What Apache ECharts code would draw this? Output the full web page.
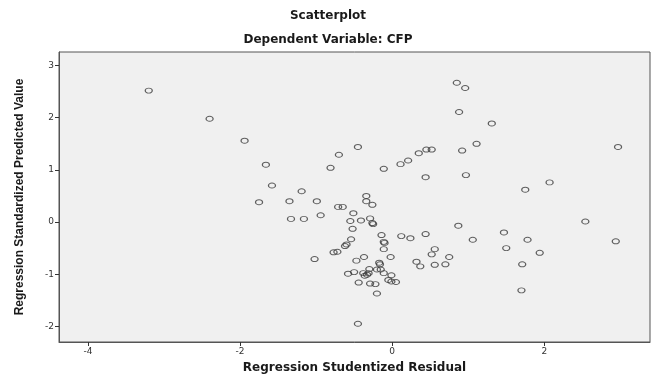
<!DOCTYPE html>
<html>
<head>
<meta charset="utf-8">
<script src="https://cdn.jsdelivr.net/npm/echarts@6/dist/echarts.min.js"></script>
<style>
  html, body { margin: 0; padding: 0; background: #ffffff; }
  #chart { width: 656px; height: 379px; }
</style>
</head>
<body>
<div id="chart"></div>
<script>
// Regression Studentized Residual (x) for each case
const residuals = [
  -3.20, -2.40, -1.94, -1.66, -1.58, -1.19, -0.81, -0.70, -0.45, -0.34,
  -0.11,  0.11,  0.21,  0.35,  0.45,  0.52,  0.44,  0.85,  0.96,  0.88,
   1.31,  1.11,  0.92,  0.97,  2.97,  2.07,  1.75, -1.75, -1.35, -0.99,
  -1.33, -1.16, -0.94, -0.71, -0.65, -0.34, -0.26, -0.51, -0.55, -0.41,
  -0.29, -0.26, -0.25, -0.52, -1.02, -0.54, -0.60, -0.62, -0.72, -0.77,
  -0.14, -0.11, -0.10, -0.11,  0.12,  0.24,  0.44,  0.56,  0.52,  0.32,
   0.37,  0.56,  0.70,  0.75, -0.02, -0.37, -0.47, -0.17, -0.16, -0.30,
  -0.20, -0.15, -0.11, -0.01, -0.50, -0.58, -0.38, -0.36, -0.33, -0.31,
  -0.05, -0.01,  0.05, -0.44, -0.29, -0.22, -0.20, -0.45,  0.87,  1.06,
   1.47,  1.50,  1.78,  1.94,  1.71,  1.70,  2.54,  2.94
];

// Regression Standardized Predicted Value (y) for each case
const predicted = [
   2.52,  1.98,  1.56,  1.10,  0.70,  0.59,  1.04,  1.29,  1.44,  0.50,
   1.02,  1.11,  1.18,  1.32,  1.39,  1.39,  0.86,  2.67,  2.57,  2.11,
   1.89,  1.50,  1.37,  0.90,  1.44,  0.76,  0.62,  0.38,  0.40,  0.40,
   0.06,  0.06,  0.13,  0.29,  0.29,  0.40,  0.33,  0.17,  0.02,  0.03,
   0.07, -0.02, -0.04, -0.13, -0.71, -0.33, -0.43, -0.46, -0.57, -0.58,
  -0.25, -0.38, -0.40, -0.52, -0.27, -0.31, -0.23, -0.52, -0.62, -0.76,
  -0.85, -0.82, -0.81, -0.67, -0.67, -0.67, -0.74, -0.78, -0.81, -0.90,
  -0.91, -0.91, -0.98, -1.02, -0.96, -0.99, -0.98, -1.03, -1.01, -0.98,
  -1.11, -1.14, -1.15, -1.16, -1.18, -1.19, -1.37, -1.95, -0.07, -0.34,
  -0.20, -0.50, -0.34, -0.59, -0.81, -1.31,  0.01, -0.37
];

// Tick values shown on each axis
const xTicks = [-4, -2, 0, 2];
const yTicks = [-2, -1, 0, 1, 2, 3];

const points = residuals.map((r, i) => [r, predicted[i]]);

const chart = echarts.init(document.getElementById('chart'), null, { renderer: 'canvas' });

const tickLabelStyle = {
  color: '#333333',
  fontFamily: 'DejaVu Sans',
  fontSize: 9
};

chart.setOption({
  animation: false,
  backgroundColor: '#ffffff',
  title: [
    {
      text: 'Scatterplot',
      left: 'center',
      top: 5,
      textStyle: { fontFamily: 'DejaVu Sans', fontWeight: 'bold', fontSize: 12, color: '#1a1a1a' }
    },
    {
      text: 'Dependent Variable: CFP',
      left: 'center',
      top: 29,
      textStyle: { fontFamily: 'DejaVu Sans', fontWeight: 'bold', fontSize: 12, color: '#1a1a1a' }
    }
  ],
  grid: {
    left: 59,
    right: 6,
    top: 52,
    bottom: 36,
    show: true,
    backgroundColor: '#f0f0f0',
    borderColor: '#555555',
    borderWidth: 1
  },
  xAxis: {
    type: 'value',
    min: -4.38,
    max: 3.39,
    name: 'Regression Studentized Residual',
    nameLocation: 'middle',
    nameGap: 20,
    nameTextStyle: { fontFamily: 'DejaVu Sans', fontWeight: 'bold', fontSize: 12, color: '#1a1a1a' },
    splitLine: { show: false },
    axisLine: { show: true, onZero: false, lineStyle: { color: '#555555' } },
    axisTick: { show: true, length: 4, customValues: xTicks, lineStyle: { color: '#333333' } },
    axisLabel: Object.assign({ customValues: xTicks, margin: 5 }, tickLabelStyle)
  },
  yAxis: {
    type: 'value',
    min: -2.30,
    max: 3.26,
    name: 'Regression Standardized Predicted Value',
    nameLocation: 'middle',
    nameGap: 33,
    nameTextStyle: { fontFamily: 'Liberation Sans', fontWeight: 'bold', fontSize: 12, color: '#1a1a1a' },
    splitLine: { show: false },
    axisLine: { show: true, onZero: false, lineStyle: { color: '#555555' } },
    axisTick: { show: true, length: 4, customValues: yTicks, lineStyle: { color: '#333333' } },
    axisLabel: Object.assign({ customValues: yTicks, margin: 5 }, tickLabelStyle)
  },
  series: [
    {
      type: 'scatter',
      data: points,
      symbol: 'circle',
      symbolSize: [7, 5],
      itemStyle: {
        color: 'rgba(0,0,0,0)',
        borderColor: '#3a3a3a',
        borderWidth: 1.1
      },
      emphasis: { disabled: true }
    }
  ]
});
</script>
</body>
</html>
